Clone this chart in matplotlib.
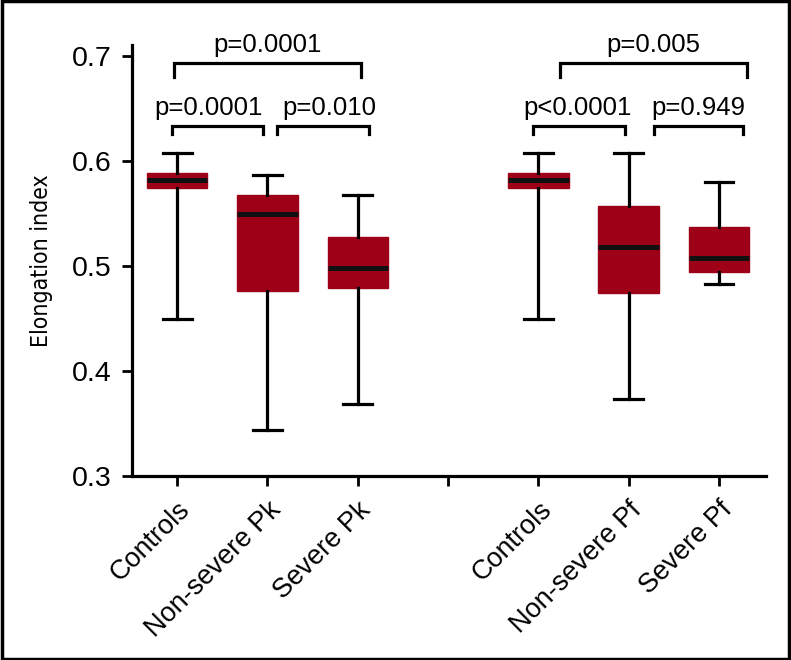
import matplotlib
matplotlib.use("Agg")
import matplotlib.pyplot as plt
from matplotlib.patches import Rectangle
from matplotlib import font_manager as fm

# ---- data ----
categories = ["Controls", "Non-severe Pk", "Severe Pk", "", "Controls", "Non-severe Pf", "Severe Pf"]
groups = ["Controls", "Non-severe Pk", "Severe Pk", "Controls", "Non-severe Pf", "Severe Pf"]
whisker_low = [0.450, 0.344, 0.369, 0.450, 0.373, 0.483]
q1 = [0.574, 0.476, 0.479, 0.574, 0.474, 0.494]
median = [0.582, 0.550, 0.498, 0.582, 0.518, 0.508]
q3 = [0.589, 0.568, 0.528, 0.589, 0.557, 0.537]
whisker_high = [0.608, 0.587, 0.568, 0.608, 0.608, 0.580]
p_labels = ["p=0.0001", "p=0.010", "p=0.0001", "p<0.0001", "p=0.949", "p=0.005"]

# ---- layout ----
box_positions = [1, 2, 3, 5, 6, 7]
# (x0, x1, y_line, tip_depth, text_x, text_y)
brackets = [
    (0.945, 1.953, 0.6333, 0.0076, 1.35, 0.6438),
    (2.109, 3.125, 0.6333, 0.0076, 2.68, 0.6438),
    (0.967, 3.033, 0.6936, 0.0133, 2.00, 0.7040),
    (4.94, 5.96, 0.6333, 0.0076, 5.43, 0.6438),
    (6.28, 7.27, 0.6333, 0.0076, 6.77, 0.6438),
    (5.243, 7.305, 0.6936, 0.0133, 6.27, 0.7040),
]

# condensed font for the y label, if one is installed
ylabel_fp = None
for f in fm.fontManager.ttflist:
    if f.name == "Liberation Sans Narrow" and f.weight in (400, "normal", "regular") and f.style == "normal":
        ylabel_fp = fm.FontProperties(fname=f.fname, size=20)
        break
if ylabel_fp is None:
    for f in fm.fontManager.ttflist:
        if f.name == "DejaVu Sans" and f.stretch == "condensed" and f.style == "normal" \
                and f.weight in (400, "normal", "regular"):
            ylabel_fp = fm.FontProperties(fname=f.fname, size=16.5)
            break
if ylabel_fp is None:
    ylabel_fp = fm.FontProperties(family=["Liberation Sans", "DejaVu Sans"], size=15.5)

W, H = 791, 660
fig = plt.figure(figsize=(W / 100, H / 100), dpi=100)
ax = fig.add_axes([132 / W, (H - 476) / H, (766 - 132) / W, (476 - 45) / H])

red = "#9E0018"
stats = []
for i, g in enumerate(groups):
    stats.append(dict(label=g, whislo=whisker_low[i], q1=q1[i], med=median[i],
                      q3=q3[i], whishi=whisker_high[i], fliers=[]))

ax.bxp(stats, positions=box_positions, widths=0.67, patch_artist=True,
       showfliers=False,
       boxprops=dict(facecolor=red, edgecolor=red, linewidth=1),
       medianprops=dict(color="#111111", linewidth=3.6, solid_capstyle="butt"),
       whiskerprops=dict(color="black", linewidth=2.3),
       capprops=dict(color="black", linewidth=2.3),
       capwidths=0.32)

ax.set_xlim(0.5, 7.52)
ax.set_ylim(0.3, 0.7105)
ax.set_yticks([0.3, 0.4, 0.5, 0.6, 0.7])
ax.set_yticklabels(["0.3", "0.4", "0.5", "0.6", "0.7"])
ax.set_xticks(range(1, 8))
ax.set_xticklabels(categories, rotation=45, ha="right", va="top",
                   rotation_mode="anchor")

for s in ["top", "right"]:
    ax.spines[s].set_visible(False)
for s in ["left", "bottom"]:
    ax.spines[s].set_linewidth(2.3)

ax.tick_params(axis="both", length=7, width=2, color="black")
ax.tick_params(axis="y", pad=8, labelsize=20.5)
ax.tick_params(axis="x", pad=8, labelsize=19.5)
for lab in ax.get_xticklabels() + ax.get_yticklabels():
    lab.set_family(["Liberation Sans", "DejaVu Sans"])

ax.set_ylabel("Elongation index", fontproperties=ylabel_fp, va="center")
ax.yaxis.set_label_coords(-0.1435, 0.5)

for (x0, x1, y, d, tx, ty), lab in zip(brackets, p_labels):
    ax.plot([x0, x0, x1, x1], [y - d, y, y, y - d], color="black",
            linewidth=2.3, clip_on=False, solid_joinstyle="miter")
    ax.text(tx, ty, lab, ha="center", va="baseline", fontsize=18.5,
            family=["Liberation Sans", "DejaVu Sans"], clip_on=False)

fig.patches.append(Rectangle((0.002, 0.002), 0.996, 0.996, transform=fig.transFigure,
                             fill=False, edgecolor="black", linewidth=2.5))

fig.savefig("out.png", dpi=100)
